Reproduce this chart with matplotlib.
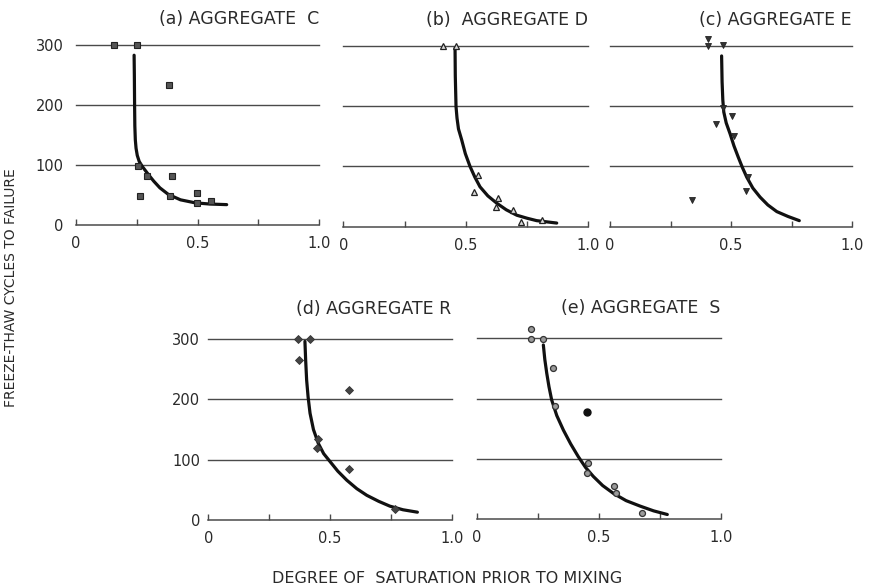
import matplotlib
matplotlib.use("Agg")
import matplotlib.pyplot as plt

# ---- measured data: degree of saturation vs freeze-thaw cycles to failure ----
# (a) Aggregate C
sat_c = [0.158, 0.250, 0.384, 0.256, 0.293, 0.394, 0.263, 0.387, 0.499, 0.499, 0.554]
cyc_c = [300, 300, 234, 99, 82, 82, 49, 48, 54, 37, 40]
curve_c_x = [0.239, 0.240, 0.241, 0.242, 0.244, 0.247, 0.252, 0.260, 0.272, 0.285,
             0.300, 0.320, 0.345, 0.380, 0.430, 0.490, 0.550, 0.620]
curve_c_y = [283, 250, 200, 165, 142, 128, 116, 106, 98, 91,
             83, 73, 62, 51, 42, 37, 35, 34]

# (b) Aggregate D
sat_d = [0.406, 0.459, 0.551, 0.535, 0.633, 0.622, 0.691, 0.725, 0.812]
cyc_d = [300, 300, 86, 58, 48, 32, 27, 7, 11]
curve_d_x = [0.456, 0.457, 0.460, 0.464, 0.470, 0.483, 0.498, 0.517, 0.537, 0.558,
             0.590, 0.626, 0.665, 0.708, 0.750, 0.789, 0.830, 0.871]
curve_d_y = [296, 250, 199, 180, 162, 144, 121, 100, 82, 66,
             51, 39, 28, 19, 14, 10, 8, 6]

# (c) Aggregate E
sat_e = [0.406, 0.406, 0.466, 0.466, 0.505, 0.438, 0.514, 0.572, 0.561, 0.338]
cyc_e = [311, 300, 301, 197, 183, 171, 150, 82, 59, 44]
curve_e_x = [0.461, 0.463, 0.466, 0.470, 0.480, 0.496, 0.512, 0.530, 0.547, 0.565,
             0.590, 0.620, 0.652, 0.689, 0.735, 0.782]
curve_e_y = [283, 240, 210, 190, 172, 154, 134, 115, 98, 82,
             64, 49, 36, 25, 17, 10]

# (d) Aggregate R
sat_r = [0.370, 0.418, 0.374, 0.578, 0.449, 0.445, 0.579, 0.767]
cyc_r = [300, 300, 265, 216, 134, 119, 84, 19]
curve_r_x = [0.397, 0.400, 0.404, 0.410, 0.418, 0.432, 0.452, 0.474, 0.500, 0.532,
             0.569, 0.610, 0.651, 0.700, 0.746, 0.800, 0.859]
curve_r_y = [296, 265, 232, 204, 177, 150, 127, 110, 97, 81,
             66, 52, 41, 31, 23, 17, 13]

# (e) Aggregate S
sat_s = [0.223, 0.223, 0.270, 0.311, 0.321, 0.455, 0.451, 0.564, 0.570, 0.676]
cyc_s = [316, 299, 299, 251, 188, 94, 76, 56, 43, 11]
sat_s_solid = [0.451]
cyc_s_solid = [178]
curve_s_x = [0.273, 0.279, 0.287, 0.296, 0.307, 0.328, 0.355, 0.385, 0.416, 0.446,
             0.478, 0.516, 0.560, 0.612, 0.669, 0.725, 0.781]
curve_s_y = [289, 265, 242, 220, 198, 172, 148, 125, 104, 86,
             71, 56, 43, 31, 22, 14, 8]

x_ticks = [0, 0.25, 0.5, 0.75, 1.0]
x_tick_labels = ["0", "", "0.5", "", "1.0"]
y_grid = [100, 200, 300]
y_ticks = [0, 100, 200, 300]
y_tick_labels = ["0", "100", "200", "300"]

plt.rcParams["font.family"] = ["DejaVu Sans"]
INK = "#2a2a2a"
GRID = "#4a4a4a"

fig = plt.figure(figsize=(8.69, 5.88), dpi=100)
fig.patch.set_facecolor("white")

panels = [
    # rect, title, sat, cycles, curve x, curve y, marker style, ylabel pad, title pad
    ([0.0875, 0.6173, 0.2796, 0.3061], "(a) AGGREGATE  C", sat_c, cyc_c, curve_c_x, curve_c_y,
     dict(marker="s", ms=4.2, mfc="#555555", mec="#222222", mew=0.8), 9.0, 15),
    ([0.3951, 0.6145, 0.2819, 0.3078], "(b)  AGGREGATE D", sat_d, cyc_d, curve_d_x, curve_d_y,
     dict(marker="^", ms=4.6, mfc="#d8d8d8", mec="#222222", mew=0.9), None, 15),
    ([0.7020, 0.6145, 0.2785, 0.3078], "(c) AGGREGATE E", sat_e, cyc_e, curve_e_x, curve_e_y,
     dict(marker="v", ms=4.6, mfc="#333333", mec="#222222", mew=0.6), None, 15),
    ([0.2397, 0.1156, 0.2801, 0.3078], "(d) AGGREGATE R", sat_r, cyc_r, curve_r_x, curve_r_y,
     dict(marker="D", ms=3.8, mfc="#444444", mec="#333333", mew=0.6), 6.0, 18),
    ([0.5486, 0.1168, 0.2808, 0.3078], "(e) AGGREGATE  S", sat_s, cyc_s, curve_s_x, curve_s_y,
     dict(marker="o", ms=4.3, mfc="#9a9a9a", mec="#333333", mew=0.9), None, 18),
]

axes = []
for rect, title, sx, sy, cx, cy, mstyle, ypad, tpad in panels:
    ax = fig.add_axes(rect)
    ax.set_xlim(0, 1.0)
    ax.set_ylim(0, 300)
    ax.patch.set_alpha(0)
    for side in ("top", "left", "right"):
        ax.spines[side].set_visible(False)
    ax.spines["bottom"].set_color(GRID)
    ax.spines["bottom"].set_linewidth(1.1)
    ax.spines["bottom"].set_zorder(1)

    # horizontal reference lines
    for g in y_grid:
        ax.axhline(g, color=GRID, lw=1.0, zorder=1, clip_on=False)

    ax.set_xticks(x_ticks)
    ax.set_xticklabels(x_tick_labels, fontsize=10.5, color=INK)
    ax.tick_params(axis="x", direction="in", length=4, width=1.0, color=GRID, pad=8)

    if ypad is not None:
        ax.set_yticks(y_ticks)
        ax.set_yticklabels(y_tick_labels, fontsize=10.5, color=INK)
        ax.tick_params(axis="y", length=0, pad=ypad)
    else:
        ax.set_yticks([])

    ax.plot(cx, cy, color="#111111", lw=2.3, solid_capstyle="round",
            solid_joinstyle="round", zorder=2, clip_on=False)
    ax.plot(sx, sy, ls="none", zorder=3, clip_on=False, **mstyle)
    ax.set_title(title, loc="right", fontsize=12.5, color=INK, pad=tpad)
    axes.append(ax)

# one solid point in panel (e)
axes[4].plot(sat_s_solid, cyc_s_solid, ls="none", marker="o", ms=5, mfc="#111111",
             mec="#111111", zorder=3, clip_on=False)

fig.text(0.0125, 0.51, "FREEZE-THAW CYCLES TO FAILURE", rotation=90, ha="center",
         va="center", fontsize=10, color=INK)
fig.text(0.515, 0.004, "DEGREE OF  SATURATION PRIOR TO MIXING", ha="center",
         va="bottom", fontsize=11.5, color=INK)

fig.savefig("out.png", dpi=100, facecolor="white")
